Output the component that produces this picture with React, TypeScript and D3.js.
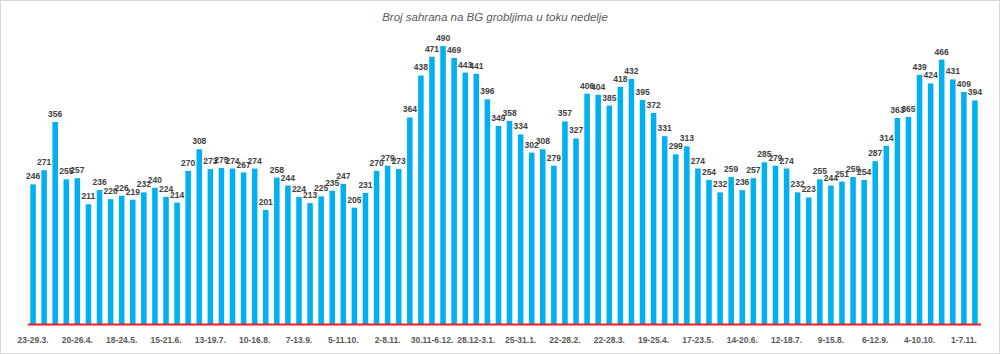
import React, { useEffect, useRef } from 'react';
import * as d3 from 'd3';

// weekly burials on Belgrade cemeteries, from 23-29.3. onwards
const weeks = [
  '23-29.3.', '30.3-5.4.', '6-12.4.', '13-19.4.', '20-26.4.', '27.4-3.5.', '4-10.5.', '11-17.5.',
  '18-24.5.', '25-31.5.', '1-7.6.', '8-14.6.', '15-21.6.', '22-28.6.', '29.6-5.7.', '6-12.7.',
  '13-19.7.', '20-26.7.', '27.7-2.8.', '3-9.8.', '10-16.8.', '17-23.8.', '24-30.8.', '31.8-6.9.',
  '7-13.9.', '14-20.9.', '21-27.9.', '28.9-4.10.', '5-11.10.', '12-18.10.', '19-25.10.', '26.10-1.11.',
  '2-8.11.', '9-15.11.', '16-22.11.', '23-29.11.', '30.11-6.12.', '7-13.12.', '14-20.12.', '21-27.12.',
  '28.12-3.1.', '4-10.1.', '11-17.1.', '18-24.1.', '25-31.1.', '1-7.2.', '8-14.2.', '15-21.2.',
  '22-28.2.', '1-7.3.', '8-14.3.', '15-21.3.', '22-28.3.', '29.3-4.4.', '5-11.4.', '12-18.4.',
  '19-25.4.', '26.4-2.5.', '3-9.5.', '10-16.5.', '17-23.5.', '24-30.5.', '31.5-6.6.', '7-13.6.',
  '14-20.6.', '21-27.6.', '28.6-4.7.', '5-11.7.', '12-18.7.', '19-25.7.', '26.7-1.8.', '2-8.8.',
  '9-15.8.', '16-22.8.', '23-29.8.', '30.8-5.9.', '6-12.9.', '13-19.9.', '20-26.9.', '27.9-3.10.',
  '4-10.10.', '11-17.10.', '18-24.10.', '25-31.10.', '1-7.11.', '8-14.11.',
];

const burials = [
  246, 271, 356, 255, 257, 211, 236, 220, 226, 219, 232, 240, 224, 214, 270, 308,
  273, 275, 274, 267, 274, 201, 258, 244, 224, 213, 225, 235, 247, 205, 231, 270,
  279, 273, 364, 438, 471, 490, 469, 443, 441, 396, 349, 358, 334, 302, 308, 279,
  357, 327, 406, 404, 385, 418, 432, 395, 372, 331, 299, 313, 274, 254, 232, 259,
  236, 257, 285, 279, 274, 232, 223, 255, 244, 251, 259, 254, 287, 314, 363, 365,
  439, 424, 466, 431, 409, 394,
];

// every fourth week gets a label on the axis
const tickWeeks = weeks.filter((_, i) => i % 4 === 0);

const title = 'Broj sahrana na BG grobljima u toku nedelje';

const App = () => {
  const svgRef = useRef<SVGSVGElement>(null);

  useEffect(() => {
    const width = 1000;
    const height = 354;
    const svg = d3.select(svgRef.current);
    svg.selectAll('*').remove();
    svg.attr('width', width).attr('height', height).style('background', '#fff');

    const data = weeks.map((w, i) => ({ week: w, value: burials[i] }));

    const x = d3
      .scaleBand()
      .domain(weeks)
      .range([27.5, 980.5])
      .paddingInner(0.5)
      .paddingOuter(0.25);

    const y = d3.scaleLinear().domain([0, 500]).range([324, 40.3]);

    // outer frame
    svg
      .append('rect')
      .attr('x', 0.5)
      .attr('y', 0.5)
      .attr('width', width - 1)
      .attr('height', height - 1)
      .attr('fill', 'none')
      .attr('stroke', '#d9d9d9');

    svg
      .append('text')
      .attr('x', 495)
      .attr('y', 21)
      .attr('text-anchor', 'middle')
      .attr('font-family', 'Liberation Sans, Arial, sans-serif')
      .attr('font-style', 'italic')
      .attr('font-size', 11.5)
      .attr('fill', '#595959')
      .text(title);

    svg
      .selectAll('.bar')
      .data(data)
      .join('rect')
      .attr('class', 'bar')
      .attr('x', d => x(d.week)!)
      .attr('y', d => y(d.value))
      .attr('width', x.bandwidth())
      .attr('height', d => y(0) - y(d.value))
      .attr('fill', '#00b0f0');

    svg
      .selectAll('.lbl')
      .data(data)
      .join('text')
      .attr('class', 'lbl')
      .attr('x', d => x(d.week)! + x.bandwidth() / 2)
      .attr('y', d => y(d.value) - 5)
      .attr('text-anchor', 'middle')
      .attr('font-family', 'Liberation Sans, Arial, sans-serif')
      .attr('font-weight', 'bold')
      .attr('font-size', 8.5)
      .attr('fill', '#404040')
      .text(d => d.value);

    // X axis: red baseline, labels only
    const xAxis = svg
      .append('g')
      .attr('transform', `translate(0,${y(0)})`)
      .call(d3.axisBottom(x).tickValues(tickWeeks).tickSize(0).tickPadding(13));
    xAxis.select('.domain').remove();
    xAxis
      .selectAll('text')
      .attr('font-family', 'Liberation Sans, Arial, sans-serif')
      .attr('font-weight', 'bold')
      .attr('font-size', 8.5)
      .attr('fill', '#595959');

    svg
      .append('line')
      .attr('x1', 28)
      .attr('x2', 981)
      .attr('y1', y(0) + 0.5)
      .attr('y2', y(0) + 0.5)
      .attr('stroke', '#ee1c25')
      .attr('stroke-width', 2);
  }, []);

  return (
    <div style={{ position: 'fixed', left: 0, top: 0 }}>
      <svg ref={svgRef}></svg>
    </div>
  );
};

export default App;
